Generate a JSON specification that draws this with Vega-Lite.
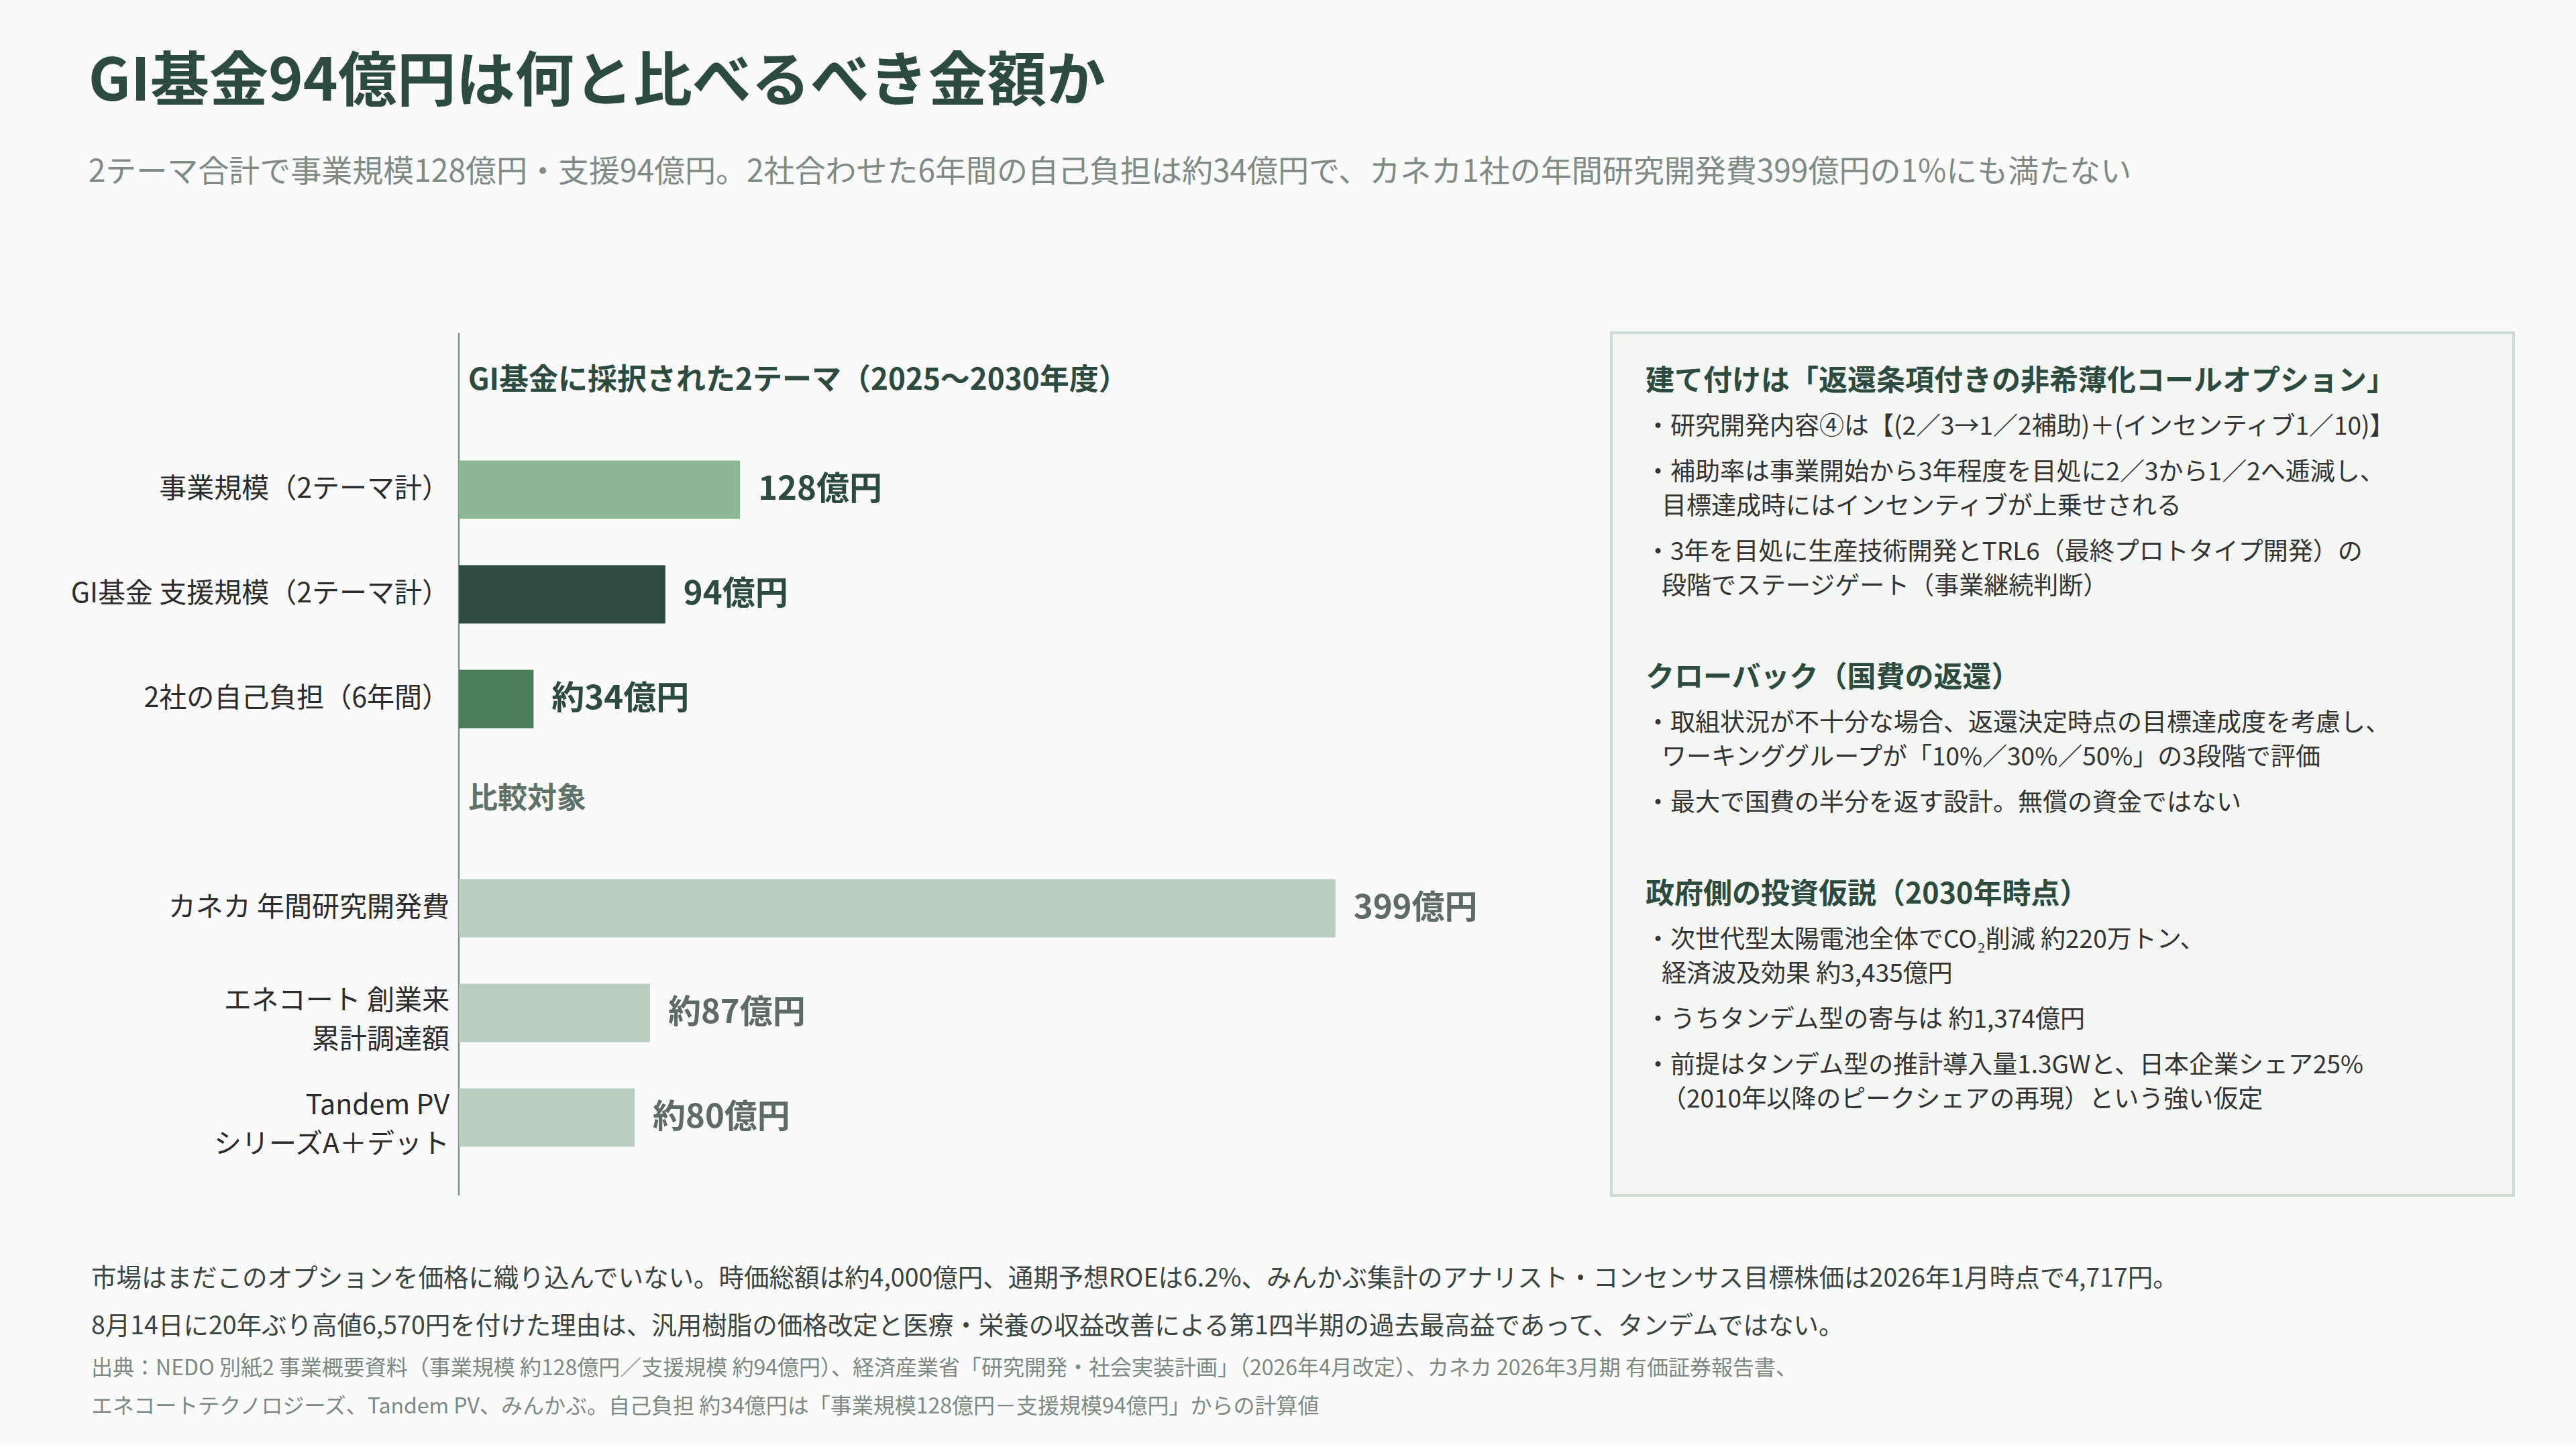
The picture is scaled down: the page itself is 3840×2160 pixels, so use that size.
{
  "$schema": "https://vega.github.io/schema/vega-lite/v6.json",
  "background": "#fafafa",
  "padding": {"left": 105, "top": 80, "right": 94, "bottom": 40},
  "title": {
    "text": "GI基金94億円は何と比べるべき金額か",
    "subtitle": "2テーマ合計で事業規模128億円・支援94億円。2社合わせた6年間の自己負担は約34億円で、カネカ1社の年間研究開発費399億円の1%にも満たない",
    "anchor": "start",
    "frame": "bounds",
    "font": "Noto Sans CJK JP",
    "fontSize": 88,
    "fontWeight": "bold",
    "color": "#2d4a3e",
    "subtitleFont": "Noto Sans CJK JP",
    "subtitleFontSize": 46,
    "subtitleFontWeight": "normal",
    "subtitleColor": "#7f8a85",
    "subtitlePadding": 67,
    "offset": 214,
    "dx": 26
  },
  "datasets": {
    "bars": [
      {"label": "事業規模（2テーマ計）", "value": 128, "amount": "128億円", "group": "事業規模"},
      {"label": "GI基金 支援規模（2テーマ計）", "value": 94, "amount": "94億円", "group": "支援規模"},
      {"label": "2社の自己負担（6年間）", "value": 34, "amount": "約34億円", "group": "自己負担"},
      {"label": "カネカ 年間研究開発費", "value": 399, "amount": "399億円", "group": "比較"},
      {"label": "エネコート 創業来\n累計調達額", "value": 87, "amount": "約87億円", "group": "比較"},
      {"label": "Tandem PV\nシリーズA＋デット", "value": 80, "amount": "約80億円", "group": "比較"}
    ],
    "heads": [
      {"label": "GI基金に採択された2テーマ（2025〜2030年度）", "kind": "theme"},
      {"label": "比較対象", "kind": "compare"}
    ],
    "notes": [
      {"line": 4, "kind": "head", "text": "建て付けは「返還条項付きの非希薄化コールオプション」"},
      {"line": 8, "kind": "item", "text": "・研究開発内容④は【(2／3→1／2補助)＋(インセンティブ1／10)】"},
      {"line": 12, "kind": "item", "text": "・補助率は事業開始から3年程度を目処に2／3から1／2へ逓減し、"},
      {"line": 15, "kind": "cont", "text": "目標達成時にはインセンティブが上乗せされる"},
      {"line": 19, "kind": "item", "text": "・3年を目処に生産技術開発とTRL6（最終プロトタイプ開発）の"},
      {"line": 22, "kind": "cont", "text": "段階でステージゲート（事業継続判断）"},
      {"line": 30, "kind": "head", "text": "クローバック（国費の返還）"},
      {"line": 34, "kind": "item", "text": "・取組状況が不十分な場合、返還決定時点の目標達成度を考慮し、"},
      {"line": 37, "kind": "cont", "text": "ワーキンググループが「10%／30%／50%」の3段階で評価"},
      {"line": 41, "kind": "item", "text": "・最大で国費の半分を返す設計。無償の資金ではない"},
      {"line": 49, "kind": "head", "text": "政府側の投資仮説（2030年時点）"},
      {"line": 53, "kind": "item", "text": "・次世代型太陽電池全体でCO₂削減 約220万トン、"},
      {"line": 56, "kind": "cont", "text": "経済波及効果 約3,435億円"},
      {"line": 60, "kind": "item", "text": "・うちタンデム型の寄与は 約1,374億円"},
      {"line": 64, "kind": "item", "text": "・前提はタンデム型の推計導入量1.3GWと、日本企業シェア25%"},
      {"line": 67, "kind": "cont", "text": "（2010年以降のピークシェアの再現）という強い仮定"}
    ],
    "footer": [
      {"block": "本文", "text": "市場はまだこのオプションを価格に織り込んでいない。時価総額は約4,000億円、通期予想ROEは6.2%、みんかぶ集計のアナリスト・コンセンサス目標株価は2026年1月時点で4,717円。\n8月14日に20年ぶり高値6,570円を付けた理由は、汎用樹脂の価格改定と医療・栄養の収益改善による第1四半期の過去最高益であって、タンデムではない。"},
      {"block": "出典", "text": "出典：NEDO 別紙2 事業概要資料（事業規模 約128億円／支援規模 約94億円）、経済産業省「研究開発・社会実装計画」（2026年4月改定）、カネカ 2026年3月期 有価証券報告書、\nエネコートテクノロジーズ、Tandem PV、みんかぶ。自己負担 約34億円は「事業規模128億円－支援規模94億円」からの計算値"}
    ]
  },
  "vconcat": [
    {
      "hconcat": [
        {
          "width": 1637.5,
          "height": 1286,
          "layer": [
            {
              "data": {"values": [{}]},
              "mark": {"type": "rule", "color": "#7d9587", "strokeWidth": 2.5},
              "encoding": {"x": {"datum": 0, "type": "quantitative", "scale": {"domain": [0, 500], "nice": false}, "axis": null}}
            },
            {
              "data": {"name": "bars"},
              "mark": {"type": "bar"},
              "encoding": {
                "y": {"field": "label", "type": "nominal", "axis": null,
                  "scale": {"domain": ["GI基金に採択された2テーマ（2025〜2030年度）", "事業規模（2テーマ計）", "GI基金 支援規模（2テーマ計）", "2社の自己負担（6年間）", "比較対象", "カネカ 年間研究開発費", "エネコート 創業来\n累計調達額", "Tandem PV\nシリーズA＋デット"], "paddingInner": 0.442, "paddingOuter": 0.343, "align": 0.322}},
                "x": {"field": "value", "type": "quantitative", "scale": {"domain": [0, 500], "nice": false}, "axis": null},
                "color": {"field": "group", "type": "nominal", "legend": null,
                  "scale": {"domain": ["事業規模", "支援規模", "自己負担", "比較"], "range": ["#8db898", "#2e4c3f", "#4b7d5c", "#b9cebf"]}}
              }
            },
            {
              "data": {"name": "bars"},
              "mark": {"type": "text", "align": "left", "baseline": "middle", "dx": 27, "fontSize": 49, "fontWeight": "bold"},
              "encoding": {
                "y": {"field": "label", "type": "nominal", "axis": null},
                "x": {"field": "value", "type": "quantitative"},
                "text": {"field": "amount"},
                "color": {"condition": {"test": "datum.group === '比較'", "value": "#5e6b64"}, "value": "#2d4a3e"}
              }
            },
            {
              "data": {"name": "bars"},
              "transform": [{"filter": "indexof(datum.label, '\\n') < 0"}],
              "mark": {"type": "text", "align": "right", "baseline": "middle", "dx": -14, "fontSize": 41, "color": "#2b2b2b"},
              "encoding": {
                "y": {"field": "label", "type": "nominal", "axis": null},
                "x": {"datum": 0, "type": "quantitative"},
                "text": {"field": "label"}
              }
            },
            {
              "data": {"name": "bars"},
              "transform": [{"filter": "indexof(datum.label, '\\n') >= 0"}],
              "mark": {"type": "text", "align": "right", "baseline": "middle", "dx": -14, "dy": -17, "fontSize": 41, "lineBreak": "\n", "lineHeight": 58, "color": "#2b2b2b"},
              "encoding": {
                "y": {"field": "label", "type": "nominal", "axis": null},
                "x": {"datum": 0, "type": "quantitative"},
                "text": {"field": "label"}
              }
            },
            {
              "data": {"name": "heads"},
              "mark": {"type": "text", "align": "left", "baseline": "middle", "dx": 14, "dy": -6, "fontSize": 44, "fontWeight": "bold"},
              "encoding": {
                "y": {"field": "label", "type": "nominal", "axis": null},
                "x": {"datum": 0, "type": "quantitative"},
                "text": {"field": "label"},
                "color": {"condition": {"test": "datum.kind === 'compare'", "value": "#5f7268"}, "value": "#2d4a3e"}
              }
            }
          ]
        },
        {
          "width": 1345,
          "height": 1286,
          "view": {"fill": "#f3f6f2", "stroke": "#cfdbd0", "strokeWidth": 4},
          "data": {"name": "notes"},
          "encoding": {
            "x": {"datum": 0, "type": "quantitative", "scale": {"domain": [0, 1]}, "axis": null},
            "y": {"field": "line", "type": "quantitative", "scale": {"domain": [-0.3, 75.35], "reverse": true, "nice": false, "zero": false}, "axis": null},
            "text": {"field": "text"}
          },
          "layer": [
            {
              "transform": [{"filter": "datum.kind === 'head'"}],
              "mark": {"type": "text", "align": "left", "baseline": "middle", "dx": 51, "fontSize": 43, "fontWeight": "bold", "color": "#2d4a3e"}
            },
            {
              "transform": [{"filter": "datum.kind === 'item'"}],
              "mark": {"type": "text", "align": "left", "baseline": "middle", "dx": 51, "fontSize": 37, "color": "#333333"}
            },
            {
              "transform": [{"filter": "datum.kind === 'cont'"}],
              "mark": {"type": "text", "align": "left", "baseline": "middle", "dx": 75, "fontSize": 37, "color": "#333333"}
            }
          ]
        }
      ],
      "spacing": 78
    },
    {
      "width": 3000,
      "height": 133,
      "data": {"name": "footer"},
      "encoding": {
        "x": {"datum": 0, "type": "quantitative", "scale": {"domain": [0, 1]}, "axis": null},
        "y": {"field": "block", "type": "ordinal", "scale": {"type": "point", "domain": ["本文", "出典"], "padding": 0}, "axis": null},
        "text": {"field": "text"}
      },
      "layer": [
        {
          "transform": [{"filter": "datum.block === '本文'"}],
          "mark": {"type": "text", "align": "left", "baseline": "middle", "lineBreak": "\n", "lineHeight": 71, "fontSize": 37.5, "color": "#3a4540", "dx": -548}
        },
        {
          "transform": [{"filter": "datum.block === '出典'"}],
          "mark": {"type": "text", "align": "left", "baseline": "middle", "lineBreak": "\n", "lineHeight": 57, "fontSize": 32, "color": "#7d8a82", "dx": -548}
        }
      ]
    }
  ],
  "spacing": 104,
  "config": {
    "font": "Noto Sans CJK JP",
    "view": {"stroke": null}
  }
}
